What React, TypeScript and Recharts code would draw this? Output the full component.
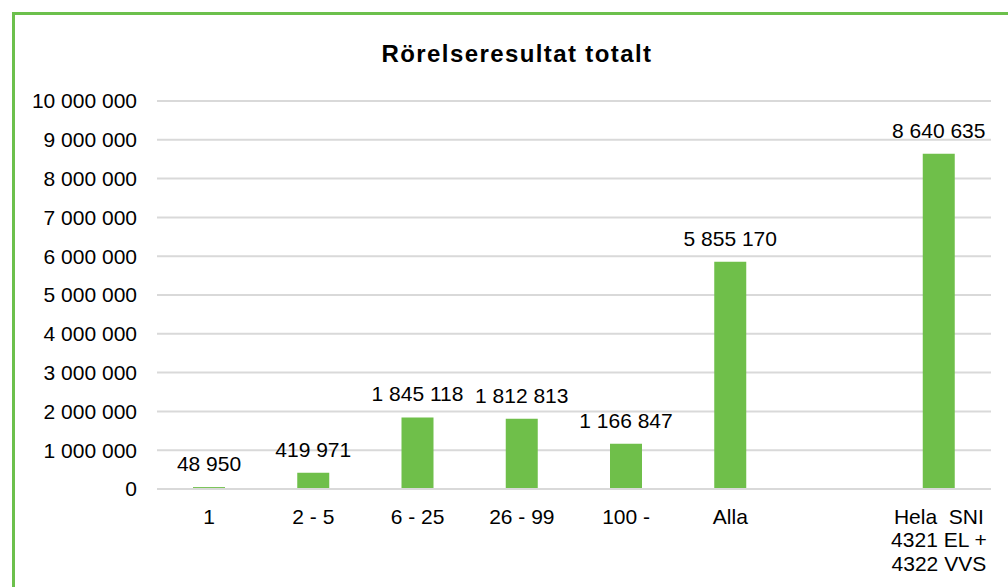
import React from 'react';
import { BarChart, Bar, XAxis, YAxis, CartesianGrid, LabelList } from 'recharts';

const categories = ['1', '2 - 5', '6 - 25', '26 - 99', '100 -', 'Alla', '', 'Hela  SNI\n4321 EL +\n4322 VVS'];
const values: (number | null)[] = [48950, 419971, 1845118, 1812813, 1166847, 5855170, null, 8640635];
const yTicks = [0, 1000000, 2000000, 3000000, 4000000, 5000000, 6000000, 7000000, 8000000, 9000000, 10000000];
const title = 'Rörelseresultat totalt';

const data = categories.map((c, i) => ({ name: c, value: values[i] }));

const fmt = (v: any) => {
  if (v === null || v === undefined || v === '') return '';
  return String(v).replace(/\B(?=(\d{3})+(?!\d))/g, ' ');
};

const FONT = '"Liberation Sans", Arial, sans-serif';
const GREEN = '#6fbf4a';
const GRID = '#d9d9d9';

const XTick = (props: any) => {
  const { x, y, payload } = props;
  const lines = String(payload.value).split('\n');
  return (
    <text x={x} y={y} textAnchor="middle" fontFamily={FONT} fontSize={21} fill="#000" style={{ whiteSpace: 'pre' }}>
      {lines.map((l, i) => (
        <tspan key={i} x={x} dy={i === 0 ? 34.5 : 23.5} style={{ whiteSpace: 'pre' }}>
          {l}
        </tspan>
      ))}
    </text>
  );
};

const ValueLabel = (props: any) => {
  const { x, y, width, value } = props;
  if (value === null || value === undefined) return null;
  return (
    <text x={Number(x) + Number(width) / 2} y={Number(y) - 16} textAnchor="middle" fontFamily={FONT} fontSize={21} fill="#000">
      {fmt(value)}
    </text>
  );
};

export default function App() {
  return (
    <div style={{ position: 'absolute', left: 0, top: 0, width: 1008, height: 587, overflow: 'hidden', background: '#fff' }}>
      <BarChart
        width={1008}
        height={587}
        data={data}
        margin={{ top: 101, right: 17, bottom: 0, left: 0 }}
        barCategoryGap={0}
      >
        <CartesianGrid vertical={false} stroke={GRID} strokeWidth={2} />
        <XAxis
          dataKey="name"
          interval={0}
          height={98}
          tick={<XTick />}
          tickLine={false}
          tickSize={0}
          tickMargin={0}
          axisLine={{ stroke: GRID, strokeWidth: 2 }}
        />
        <YAxis
          width={157}
          domain={[0, 10000000]}
          ticks={yTicks}
          interval={0}
          tickFormatter={fmt}
          axisLine={false}
          tickLine={false}
          tickSize={0}
          tickMargin={20}
          tick={{ fontFamily: FONT, fontSize: 21, fill: '#000' }}
        />
        <Bar dataKey="value" fill={GREEN} barSize={32} isAnimationActive={false}>
          <LabelList dataKey="value" content={<ValueLabel />} />
        </Bar>
      </BarChart>
      <svg width={1008} height={587} style={{ position: 'absolute', left: 0, top: 0, pointerEvents: 'none' }}>
        <rect x={13.5} y={13.5} width={1100} height={700} fill="none" stroke="#6cc04c" strokeWidth={3} />
        <text x={517} y={62} textAnchor="middle" fontFamily={FONT} fontWeight="bold" fontSize={24} letterSpacing={1.4} fill="#000">
          {title}
        </text>
      </svg>
    </div>
  );
}
